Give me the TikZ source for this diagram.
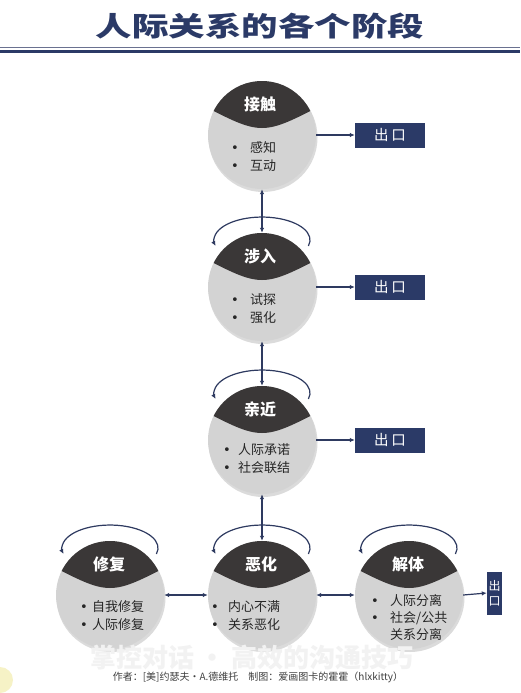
\documentclass[tikz,border=0pt]{standalone}
\usepackage{fontspec}
\setmainfont{Noto Sans CJK SC}
\newfontfamily\titlefont{Noto Sans CJK SC Black}
\newfontfamily\symfont{DejaVu Sans}
\usetikzlibrary{arrows.meta,calc}
\definecolor{navy}{HTML}{2B3A67}
\definecolor{navyline}{HTML}{6A7190}
\definecolor{capdark}{HTML}{3A3737}
\definecolor{circgray}{HTML}{D3D3D3}
\definecolor{arrowc}{HTML}{2E3A60}
\definecolor{paleyellow}{HTML}{F6F2C6}
\newcommand{\mybul}[1]{\makebox[#1][l]{\symfont •}}
\begin{document}
\begin{tikzpicture}[x=1pt,y=-1pt,
  stage/.style={circle, minimum size=108pt, inner sep=0pt, fill=circgray,
    path picture={\fill[capdark] ($(path picture bounding box.center)+(-62,-31)$) .. controls ($(path picture bounding box.center)+(0,1)$) .. ($(path picture bounding box.center)+(62,-31)$) -- ++(0,-40) -- ++(-124,0) -- cycle;}},
  captext/.style={text=white, font=\bfseries\fontsize{16}{18}\selectfont, inner sep=0pt},
  bullets/.style={anchor=west, align=left, inner sep=0pt, text=black!85, font=\fontsize{13}{18}\selectfont},
  exitbox/.style={fill=navy, text=white, minimum width=70pt, minimum height=25pt, inner sep=0pt, font=\fontsize{14.5}{16}\selectfont},
  conn/.style={draw=arrowc, line width=1.2pt, -{Latex[length=5pt,width=4.5pt]}},
  biconn/.style={draw=arrowc, line width=1.2pt, {Latex[length=5pt,width=4.5pt]}-{Latex[length=5pt,width=4.5pt]}},
  selfloop/.style={draw=arrowc, line width=1.2pt, -{Latex[length=5pt,width=4.5pt]}},
  shadowc/.style={fill=black!14}
]
\useasboundingbox (0,0) rectangle (520,693);
\fill[white] (0,0) rectangle (520,693);
\fill[paleyellow] (0,680) circle (13);

% title
\node[text=navy, font=\titlefont\fontsize{27}{30}\selectfont, inner sep=0pt] (title) at (260,26) {\scalebox{1.35}[1]{人际关系的各个阶段}};
\draw[navyline, line width=1pt] (0,47.5) -- (520,47.5);
\fill[navy] (0,50) rectangle (520,53.3);

% positions
\coordinate (p1) at (262,135);
\coordinate (p2) at (262,287);
\coordinate (p3) at (262,440);
\coordinate (p4) at (110,595);
\coordinate (p5) at (262,595);
\coordinate (p6) at (409,595);
\foreach \p in {p1,p2,p3,p4,p5,p6} \fill[shadowc] ($(\p)+(1,2.5)$) circle (54.5);

% stages
\node[stage] (c1) at (p1) {};
\node[stage] (c2) at (p2) {};
\node[stage] (c3) at (p3) {};
\node[stage] (c4) at (p4) {};
\node[stage] (c5) at (p5) {};
\node[stage] (c6) at (p6) {};

\node[captext] (t1) at ($(c1)+(-2,-31)$) {接触};
\node[captext] (t2) at ($(c2)+(-2,-31)$) {涉入};
\node[captext] (t3) at ($(c3)+(-2,-31)$) {亲近};
\node[captext] (t4) at ($(c4)+(-1,-31)$) {修复};
\node[captext] (t5) at ($(c5)+(-1,-31)$) {恶化};
\node[captext] (t6) at ($(c6)+(-1,-31)$) {解体};

\node[bullets] (l1) at (231,156.5) {\mybul{19pt}感知\\\mybul{19pt}互动};
\node[bullets] (l2) at (231,309) {\mybul{19pt}试探\\\mybul{19pt}强化};
\node[bullets] (l3) at (223,458.5) {\mybul{15pt}人际承诺\\\mybul{15pt}社会联结};
\node[bullets] (l4) at (80,616) {\mybul{12pt}自我修复\\\mybul{12pt}人际修复};
\node[bullets] (l5) at (211,616) {\mybul{17pt}内心不满\\\mybul{17pt}关系恶化};
\node[bullets, font=\fontsize{13}{17}\selectfont] (l6) at (371,618) {\mybul{19pt}人际分离\\\mybul{19pt}社会/公共\\\makebox[19pt]{}关系分离};

% exits
\node[exitbox] (x1) at (390,135) {出\hspace{3pt}口};
\node[exitbox] (x2) at (390,287) {出\hspace{3pt}口};
\node[exitbox] (x3) at (390,440) {出\hspace{3pt}口};
\node[exitbox, minimum width=15pt, minimum height=43pt, font=\fontsize{12}{15}\selectfont, align=center] (x6) at (494.5,593) {出\\口};

% connectors
\draw[biconn] (c1.south) -- (c2.north);
\draw[biconn] (c2.south) -- (c3.north);
\draw[biconn] (c3.south) -- (c5.north);
\draw[biconn] (c4.east) -- (c5.west);
\draw[biconn] (c5.east) -- (c6.west);
\draw[conn] (c1.east) -- (x1.west);
\draw[conn] (c2.east) -- (x2.west);
\draw[conn] (c3.east) -- (x3.west);
\draw[conn] (c6.east) -- (x6.west);

% self loops
\foreach \c in {c2,c3,c4,c5,c6}
  \draw[selfloop] ($(\c)+(46.4,-41)$) arc[start angle=15, end angle=-195, x radius=48, y radius=23];

% footer
\node[text=black!5, font=\titlefont\fontsize{26}{28}\selectfont, inner sep=0pt] (wm) at (252,658) {掌控对话 · 高效的沟通技巧};
\node[text=black!75, font=\fontsize{10}{12}\selectfont, inner sep=0pt] (foot) at (258,677) {作者：[美]约瑟夫・A.德维托\quad 制图：爱画图卡的霍霍（hlxkitty）};
\end{tikzpicture}
\end{document}
